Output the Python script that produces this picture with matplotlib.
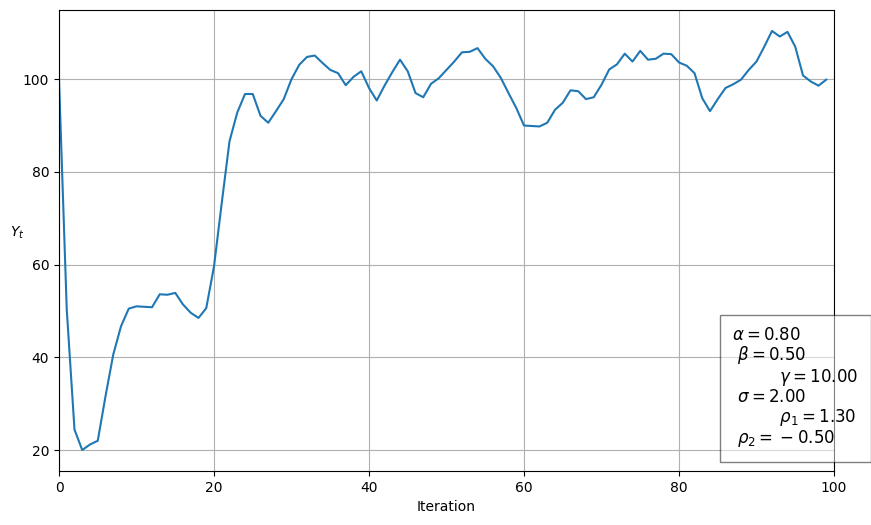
import numpy as np
import matplotlib
matplotlib.use("Agg")
import matplotlib.pyplot as plt

# values, one per iteration (0..99)
y_vals = [100.0, 50.3, 24.4, 20.0, 21.2, 22.0, 31.6, 40.6, 46.7, 50.5,
          51.0, 50.9, 50.8, 53.6, 53.5, 53.9, 51.4, 49.6, 48.5, 50.6,
          59.6, 73.3, 86.6, 92.8, 96.8, 96.8, 92.1, 90.6, 93.1, 95.7,
          100.0, 103.1, 104.8, 105.1, 103.5, 102.0, 101.3, 98.7, 100.5, 101.7,
          98.1, 95.4, 98.6, 101.5, 104.2, 101.7, 97.0, 96.1, 99.0, 100.2,
          102.0, 103.8, 105.8, 105.9, 106.7, 104.4, 102.8, 100.3, 97.0, 93.8,
          90.0, 89.9, 89.8, 90.6, 93.4, 94.9, 97.6, 97.4, 95.7, 96.1,
          98.8, 102.1, 103.2, 105.5, 103.8, 106.1, 104.2, 104.4, 105.5, 105.4,
          103.6, 102.9, 101.3, 95.9, 93.1, 95.7, 98.1, 98.9, 99.9, 102.0,
          103.8, 107.0, 110.4, 109.2, 110.2, 107.0, 100.8, 99.5, 98.6, 99.9]
iters = np.arange(len(y_vals))

params = [(r'\alpha', 0.80), (r'\beta', 0.50), (r'\gamma', 10.00),
          (r'\sigma', 2.00), (r'\rho_1', 1.30), (r'\rho_2', -0.50)]
indent = [0, 1, 9, 1, 9, 1]

fig = plt.figure(figsize=(8.71, 5.25), dpi=100)
ax = fig.add_axes([59/871, 54/525, 775/871, 461/525])

ax.plot(iters, y_vals)
ax.set_xlim(0, 100)
ax.set_xlabel('Iteration')
ax.set_ylabel(r'$Y_t$', rotation=0)
ax.grid(True)

lines = []
for (name, v), n in zip(params, indent):
    if v < 0:
        val = r'\:-\:%.2f' % abs(v)   # old-style binary minus spacing
    else:
        val = '%.2f' % v
    lines.append(' ' * n + r'$%s=%s$' % (name, val))
textstr = '\n'.join(lines)

props = dict(facecolor='white', alpha=0.5, pad=9)
ax.text(0.869, 0.315, textstr, transform=ax.transAxes, fontsize=12,
        verticalalignment='top', linespacing=1.03, bbox=props)

fig.savefig('out.png', dpi=100)
